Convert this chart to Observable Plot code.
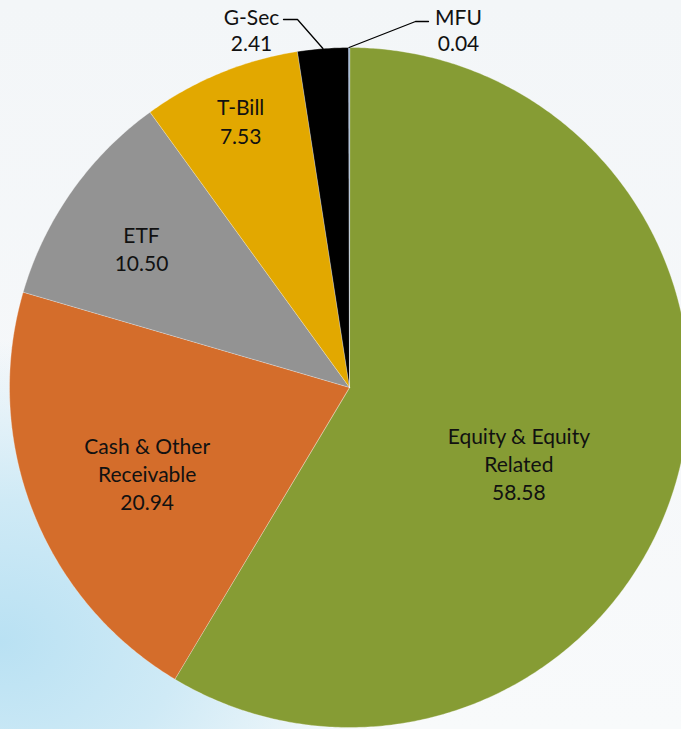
<!DOCTYPE html>
<html>
<head>
<meta charset="utf-8">
<script src="https://cdn.jsdelivr.net/npm/d3@7"></script>
<script src="https://cdn.jsdelivr.net/npm/@observablehq/plot@0.6"></script>
<style>
  html, body { margin: 0; padding: 0; }
  body { width: 681px; height: 729px; overflow: hidden; }
  #chart {
    position: relative; width: 681px; height: 729px;
    background:
      radial-gradient(ellipse 75% 55% at 0% 88%, #b9e1f3 0%, #cfeaf6 35%, rgba(235,244,249,0) 75%),
      linear-gradient(180deg, #f3f6f8 0%, #f6f8fa 60%, #f8fafb 100%);
  }
</style>
</head>
<body>
<div id="chart"></div>
<script>
// ---- data ----
const names = ["Equity & Equity Related", "Cash & Other Receivable", "ETF", "T-Bill", "G-Sec", "MFU"];
const labelLines = ["Equity & Equity\nRelated", "Cash & Other\nReceivable", "ETF", "T-Bill", "G-Sec", "MFU"];
const values = [58.58, 20.94, 10.50, 7.53, 2.41, 0.04];
const colors = ["#869C34", "#D46D2B", "#939393", "#E2A800", "#000000", "#4472C4"];

// ---- layout (pixel geometry of the pie and label placement) ----
const W = 681, H = 729, CX = 349, CY = 387, R = 340;
// inside labels: radius fraction and angular nudge (deg) from the slice mid-angle
const inside = {"Equity & Equity Related": [0.545, 8.5], "Cash & Other Receivable": [0.646, -1.5], "ETF": [0.736, -1.4], "T-Bill": [0.848, 0.2]};
// outside labels: text centre and leader elbow/end in pixels
const outside = {
  "G-Sec": {text: [251, 29], elbow: [297, 19], end: [283, 19]},
  "MFU": {text: [458, 29], elbow: [415, 21], end: [428, 21]}
};

const px = ([x, y]) => ({x: (x - CX) / R, y: (CY - y) / R});
const total = d3.sum(values);
let acc = 0;
const slices = names.map((name, i) => {
  const a0 = acc / total * 2 * Math.PI;
  acc += values[i];
  const a1 = acc / total * 2 * Math.PI;
  return {name, value: values[i], label: labelLines[i] + "\n" + values[i].toFixed(2), a0, a1, mid: (a0 + a1) / 2};
});

const polys = [];
for (const s of slices) {
  polys.push({name: s.name, x: 0, y: 0});
  const n = Math.max(2, Math.ceil((s.a1 - s.a0) / (Math.PI / 360)));
  for (let k = 0; k <= n; k++) {
    const a = s.a0 + (s.a1 - s.a0) * k / n;
    polys.push({name: s.name, x: Math.sin(a), y: Math.cos(a)});
  }
}

const insideLabels = slices.filter(s => inside[s.name]).map(s => {
  const [rf, sh] = inside[s.name];
  const a = s.mid + sh * Math.PI / 180;
  return {label: s.label, x: rf * Math.sin(a), y: rf * Math.cos(a)};
});
const outsideLabels = slices.filter(s => outside[s.name]).map(s => ({label: s.label, ...px(outside[s.name].text)}));
const leaders = [];
for (const s of slices.filter(s => outside[s.name])) {
  const o = outside[s.name];
  leaders.push({name: s.name, x: Math.sin(s.mid), y: Math.cos(s.mid)});
  leaders.push({name: s.name, ...px(o.elbow)});
  leaders.push({name: s.name, ...px(o.end)});
}

const chart = Plot.plot({
  width: W, height: H,
  marginTop: 0, marginRight: 0, marginBottom: 0, marginLeft: 0,
  x: {domain: [-CX / R, (W - CX) / R], axis: null},
  y: {domain: [-(H - CY) / R, CY / R], axis: null},
  color: {domain: names, range: colors},
  style: {background: "transparent", fontFamily: "Lato, sans-serif", overflow: "visible"},
  marks: [
    Plot.line(polys, {x: "x", y: "y", z: "name", fill: "name", stroke: "#ffffff", strokeOpacity: 0.4, strokeWidth: 0.8, curve: "linear-closed"}),
    Plot.line(leaders, {x: "x", y: "y", z: "name", stroke: "#000", strokeWidth: 1.3}),
    Plot.text(insideLabels, {x: "x", y: "y", text: "label", fill: "#111", fontSize: 21, lineHeight: 1.34}),
    Plot.text(outsideLabels, {x: "x", y: "y", text: "label", fill: "#111", fontSize: 21, lineHeight: 1.24})
  ]
});
chart.style.position = "absolute";
chart.style.left = "0px";
chart.style.top = "0px";
document.getElementById("chart").appendChild(chart);
</script>
</body>
</html>
